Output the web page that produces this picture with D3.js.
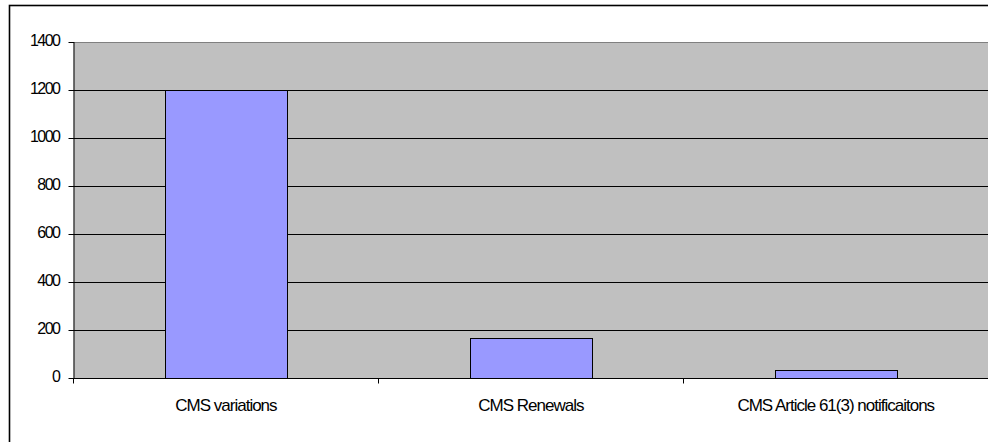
<!DOCTYPE html>
<html>
<head>
<meta charset="utf-8">
<script src="https://cdn.jsdelivr.net/npm/d3@7"></script>
<style>
html, body { margin: 0; padding: 0; background: #ffffff; }
svg { display: block; }
text { font-family: "Liberation Sans", Arial, sans-serif; fill: #000; }
</style>
</head>
<body>
<svg id="chart" width="988" height="442"></svg>
<script>
const categories = ["CMS variations", "CMS Renewals", "CMS Article 61(3) notificaitons"];
const values = [1200, 167, 32];
const yTicks = [0, 200, 400, 600, 800, 1000, 1200, 1400];

const svg = d3.select("#chart");
const plot = { left: 73.5, right: 988.2, top: 42, bottom: 378 };

// outer frame
svg.append("rect")
  .attr("x", 9.5).attr("y", 5.5)
  .attr("width", 1200).attr("height", 1000)
  .attr("fill", "#ffffff")
  .attr("stroke", "#000").attr("stroke-width", 1.6);

const x = d3.scaleBand()
  .domain(categories)
  .range([plot.left, plot.right])
  .paddingInner(0.6)
  .paddingOuter(0.3);

const y = d3.scaleLinear().domain([0, 1400]).range([plot.bottom, plot.top]);

// plot background
svg.append("rect")
  .attr("x", plot.left).attr("y", plot.top)
  .attr("width", plot.right - plot.left).attr("height", plot.bottom - plot.top)
  .attr("fill", "#c0c0c0");

// top border of plot (gray)
svg.append("line")
  .attr("x1", plot.left).attr("x2", plot.right)
  .attr("y1", plot.top + 0.5).attr("y2", plot.top + 0.5)
  .attr("stroke", "#808080").attr("stroke-width", 1);

// gridlines
svg.append("g").selectAll("line")
  .data(yTicks.filter(d => d > 0 && d < 1400))
  .join("line")
  .attr("x1", plot.left).attr("x2", plot.right)
  .attr("y1", d => Math.round(y(d)) + 0.5).attr("y2", d => Math.round(y(d)) + 0.5)
  .attr("stroke", "#000").attr("stroke-width", 1);

// bars
svg.append("g").selectAll("rect")
  .data(values)
  .join("rect")
  .attr("x", (d, i) => Math.round(x(categories[i])) + 0.5)
  .attr("y", d => Math.round(y(d)) + 0.5)
  .attr("width", Math.round(x.bandwidth()))
  .attr("height", d => Math.round(y(0)) - Math.round(y(d)))
  .attr("fill", "#9999ff")
  .attr("stroke", "#000").attr("stroke-width", 1);

// y axis
const yAxis = d3.axisLeft(y).tickValues(yTicks).tickSize(5).tickPadding(10).tickFormat(d3.format("d"));
const gy = svg.append("g")
  .attr("transform", `translate(${plot.left},0)`)
  .call(yAxis);
gy.select(".domain").attr("stroke", "#000").attr("d", `M0.5,${plot.top}V${plot.bottom + 0.5}`);
gy.selectAll(".tick line").attr("stroke", "#000").attr("x1", 0.5).attr("x2", -5);
gy.selectAll(".tick").attr("transform", d => `translate(0,${Math.round(y(d)) + 0.5})`);
gy.selectAll(".tick text")
  .attr("x", -14)
  .attr("dy", "3.5px")
  .style("font-size", "16px")
  .style("letter-spacing", "-1.5px")
  .style("font-family", "'Liberation Sans', Arial, sans-serif")
  .attr("fill", "#000");

// x axis
const gx = svg.append("g").attr("transform", `translate(0,${Math.round(plot.bottom) + 0.5})`);
gx.append("line")
  .attr("x1", plot.left).attr("x2", plot.right)
  .attr("y1", 0).attr("y2", 0)
  .attr("stroke", "#000").attr("stroke-width", 1);

// category boundary ticks
const boundaries = categories.map((c, i) => x(c) - x.step() * x.paddingOuter());
gx.selectAll("line.bt")
  .data(boundaries)
  .join("line")
  .attr("class", "bt")
  .attr("x1", d => Math.round(d) + 0.5).attr("x2", d => Math.round(d) + 0.5)
  .attr("y1", 0).attr("y2", 5)
  .attr("stroke", "#000");

gx.selectAll("text.cat")
  .data(categories)
  .join("text")
  .attr("class", "cat")
  .attr("x", d => x(d) + x.bandwidth() / 2)
  .attr("y", 32.5)
  .attr("text-anchor", "middle")
  .style("font-size", "17px")
  .style("letter-spacing", "-1px")
  .text(d => d);
</script>
</body>
</html>
